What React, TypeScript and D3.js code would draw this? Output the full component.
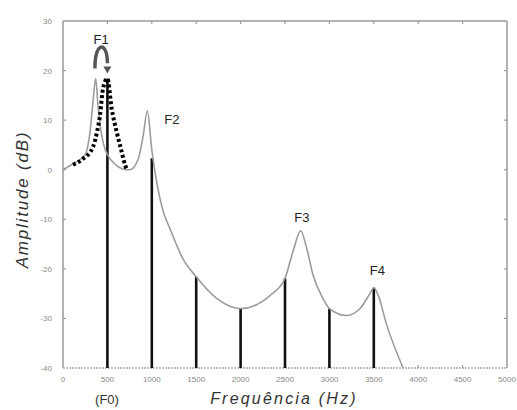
import React from 'react';
import * as d3 from 'd3';

// envelope (solid gray): [Hz, dB]
const envelope: [number, number][] = [
  [0, 0], [113, 1.2], [248, 3], [304, 7.6], [338, 13.7], [368, 18.4], [394, 13],
  [435, 7], [529, 2.2], [720, 0], [755, 0], [848, 2.2], [904, 7], [950, 11.9],
  [1000, 4], [1060, -3], [1130, -8.5], [1205, -11.9], [1351, -18], [1500, -21.6],
  [1734, -26], [2000, -28], [2185, -27.2], [2331, -25.4], [2500, -21.9], [2590, -16.5],
  [2677, -12.3], [2745, -15.9], [2815, -21.2], [2928, -26], [3000, -28], [3195, -29.4],
  [3345, -28], [3457, -25], [3502, -23.8], [3547, -25.2], [3645, -31.3], [3830, -40],
];

// shifted F1 envelope (dashed black)
const shifted: [number, number][] = [
  [113, 1], [225, 2.2], [338, 4.6], [383, 7.6], [417, 11], [450, 16.3], [500, 18.4],
  [548, 12.3], [605, 7.6], [661, 3.6], [698, 1], [720, 0],
];

// harmonics: frequency and level
const harmonicHz = [500, 1000, 1500, 2000, 2500, 3000, 3500];
const harmonicDb = [18.4, 2.3, -21.6, -28, -21.9, -28, -23.8];

const xTicks = [0, 500, 1000, 1500, 2000, 2500, 3000, 3500, 4000, 4500, 5000];
const yTicks = [30, 20, 10, 0, -10, -20, -30, -40];

const formantLabels = ['F1', 'F2', 'F3', 'F4'];
const formantAt: [number, number][] = [[430, 25.3], [1225, 9.3], [2691, -10.5], [3541, -21.2]];

const W = 517;
const H = 410;
const margin = { top: 21, right: 10, bottom: 42, left: 63 };

export default function App() {
  const x = d3.scaleLinear().domain([0, 5000]).range([margin.left, W - margin.right]);
  const y = d3.scaleLinear().domain([-40, 30]).range([H - margin.bottom, margin.top]);

  const line = d3.line<[number, number]>()
    .x(d => x(d[0]))
    .y(d => y(d[1]))
    .curve(d3.curveMonotoneX);

  const x0 = x(0), x1 = x(5000), yT = y(30), yB = y(-40);
  const frame = '#9a9a9a';
  const tickCol = '#8a8a8a';

  // arrow from old F1 peak to F0
  const arrowPath = d3.path();
  arrowPath.moveTo(x(360), y(20.4));
  arrowPath.bezierCurveTo(x(355), y(26), x(500), y(26), x(500), y(21.5));
  const ax = x(500), ay = y(19.6);

  return (
    <svg width={W} height={H} style={{ position: 'absolute', left: 0, top: 0, background: '#fff' }}
      fontFamily="'Liberation Sans', Arial, sans-serif">
      {/* frame */}
      <line x1={x0} x2={x1} y1={yT} y2={yT} stroke={frame} strokeWidth={1.5} />
      <line x1={x0} x2={x0} y1={yT} y2={yB} stroke={frame} strokeWidth={1.5} />
      <line x1={x1} x2={x1} y1={yT} y2={yB} stroke={frame} strokeWidth={1.5} />
      <line x1={x0} x2={x1} y1={yB} y2={yB} stroke="#a8a8a8" strokeWidth={1.5} strokeDasharray="2,1" />
      {xTicks.slice(1, -1).map(t => (
        <g key={'xt' + t}>
          <line x1={x(t)} x2={x(t)} y1={yT} y2={yT + 3} stroke={frame} strokeWidth={1.2} />
          <line x1={x(t)} x2={x(t)} y1={yB} y2={yB - 3} stroke={frame} strokeWidth={1.2} />
        </g>
      ))}
      {yTicks.slice(1, -1).map(t => (
        <g key={'yt' + t}>
          <line x1={x0} x2={x0 + 3} y1={y(t)} y2={y(t)} stroke={frame} strokeWidth={1.2} />
          <line x1={x1} x2={x1 - 3} y1={y(t)} y2={y(t)} stroke={frame} strokeWidth={1.2} />
        </g>
      ))}
      {xTicks.map(t => (
        <text key={'xl' + t} x={x(t)} y={yB + 14} fontSize={8} fill={tickCol} textAnchor="middle">{t}</text>
      ))}
      {yTicks.map(t => (
        <text key={'yl' + t} x={x0 - 11} y={y(t) + 3} fontSize={8} fill={tickCol} textAnchor="end">{t}</text>
      ))}

      {/* harmonics */}
      {harmonicHz.map((h, i) => (
        <line key={'h' + h} x1={x(h)} x2={x(h)} y1={yB} y2={y(harmonicDb[i])} stroke="#111" strokeWidth={2.6} />
      ))}

      {/* envelopes */}
      <path d={line(envelope) || ''} fill="none" stroke="#9c9c9c" strokeWidth={1.6} />
      <path d={line(shifted) || ''} fill="none" stroke="#000" strokeWidth={4} strokeDasharray="3,2.5" />

      {/* arrow */}
      <path d={arrowPath.toString()} fill="none" stroke="#555" strokeWidth={3.4} />
      <path d={`M${ax - 4},${ay - 6} L${ax + 4},${ay - 6} L${ax},${ay + 1} Z`} fill="#555" />

      {/* formant labels */}
      {formantLabels.map((f, i) => (
        <text key={f} x={x(formantAt[i][0])} y={y(formantAt[i][1])} fontSize={13} fill="#222" textAnchor="middle">{f}</text>
      ))}

      {/* axis titles */}
      <text x={107} y={404} fontSize={13} fill="#333" textAnchor="middle">(F0)</text>
      <text x={284} y={404} fontSize={16} fill="#333" fontStyle="italic" letterSpacing={2.2} textAnchor="middle">Frequência (Hz)</text>
      <text transform={`translate(28,${(yT + yB) / 2 + 5}) rotate(-90)`} fontSize={17} fill="#333"
        fontStyle="italic" letterSpacing={1.8} textAnchor="middle">Amplitude (dB)</text>
    </svg>
  );
}
